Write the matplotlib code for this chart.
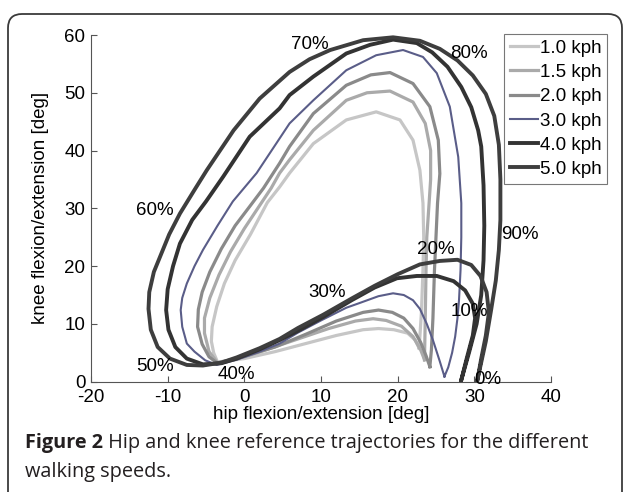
import matplotlib
matplotlib.use("Agg")
import matplotlib.pyplot as plt
from matplotlib.patches import FancyBboxPatch

plt.rcParams['font.family'] = ['Liberation Sans', 'DejaVu Sans']
plt.rcParams['axes.unicode_minus'] = False

# gait cycle loops, hip vs knee [deg] (0% -> 100%)
hip_10 = [22.8, 22.3, 21.3, 19.5, 17.5, 15.5, 12.0, 8.0, 4.0, 0.0, -3.5, -4.0, -4.3, -4.2, -3.6, -2.6,
          -1.2, 0.8, 3.0, 4.6, 5.9, 9.0, 13.3, 17.2, 20.3, 22.0, 22.9, 23.3, 23.4, 23.3, 23.1, 22.8]
knee_10 = [5.8, 7.2, 8.4, 9.0, 9.2, 9.0, 8.0, 6.6, 5.2, 4.0, 3.4, 5.0, 7.0, 9.5, 13.0, 17.0,
           21.0, 25.5, 31.0, 33.7, 36.1, 41.2, 45.3, 46.7, 45.3, 41.8, 36.6, 30.9, 25.0, 19.3, 12.0, 5.8]

hip_15 = [23.5, 23.0, 22.0, 20.5, 18.5, 16.8, 14.5, 11.0, 7.0, 3.0, 0.0, -3.5, -4.6, -5.2, -5.2, -4.5,
          -3.3, -1.8, 0.0, 2.0, 3.5, 4.6, 5.9, 9.0, 13.3, 16.0, 19.0, 22.0, 23.6, 24.3, 24.3, 24.1, 23.8,
          23.7, 23.6, 23.5]
knee_15 = [3.8, 5.5, 7.8, 9.6, 10.6, 10.9, 10.5, 9.2, 7.4, 5.6, 4.3, 3.3, 5.2, 8.4, 11.0, 14.5,
           18.5, 22.5, 26.5, 30.5, 33.5, 36.1, 38.4, 43.5, 48.7, 50.0, 50.3, 48.4, 44.7, 40.0, 35.0, 30.9,
           25.0, 19.3, 11.0, 3.8]

hip_20 = [24.2, 23.7, 23.0, 22.0, 20.8, 19.3, 17.5, 15.5, 12.0, 8.0, 4.0, 0.0, -3.5, -4.6, -5.5, -6.1,
          -6.0, -5.5, -4.5, -3.0, -1.2, 0.8, 2.5, 4.6, 5.9, 9.0, 13.3, 16.5, 19.0, 22.0, 24.2, 25.3,
          25.5, 25.2, 24.8, 24.6, 24.4, 24.2]
knee_20 = [2.6, 4.5, 6.8, 9.2, 11.0, 12.0, 12.4, 12.0, 10.5, 8.2, 6.0, 4.4, 3.2, 4.3, 6.5, 9.5,
           12.5, 15.5, 19.0, 23.0, 27.0, 30.5, 33.5, 37.8, 40.7, 46.4, 51.3, 53.1, 53.5, 51.6, 47.6, 41.8,
           36.0, 30.9, 19.3, 11.0, 5.5, 2.6]

hip_30 = [26.1, 25.5, 24.6, 23.8, 22.9, 22.0, 20.8, 19.4, 17.5, 15.0, 13.3, 10.0, 7.0, 4.6, 2.0, -1.0,
          -3.6, -5.1, -6.5, -7.5, -8.1, -8.3, -8.1, -7.5, -6.5, -5.4, -3.5, -1.5, 1.6, 4.6, 5.9, 9.0,
          13.3, 17.2, 20.7, 23.3, 25.1, 26.8, 27.9, 28.3, 28.3, 28.2, 28.0, 27.8, 27.5, 27.1, 26.6, 26.1]
knee_30 = [0.9, 3.5, 7.2, 10.0, 12.6, 14.1, 15.0, 15.3, 14.8, 13.6, 12.8, 10.6, 8.5, 6.6, 5.2, 3.8,
           2.9, 3.7, 5.2, 6.6, 9.5, 12.4, 14.5, 17.0, 20.0, 22.8, 27.0, 31.2, 36.1, 42.1, 44.7, 48.7,
           53.9, 56.5, 57.4, 56.2, 53.4, 47.6, 38.9, 30.9, 25.0, 19.3, 14.1, 11.0, 7.8, 5.0, 2.5, 0.9]

hip_40 = [28.3, 29.0, 29.8, 30.1, 29.8, 28.8, 27.3, 25.1, 22.5, 19.9, 17.0, 14.0, 10.3, 7.0, 4.6, 2.0,
          -1.0, -3.0, -5.4, -7.5, -9.0, -9.9, -10.2, -10.0, -9.3, -8.4, -6.8, -5.0, -2.75, 0.7, 4.6, 5.9,
          9.0, 13.3, 16.4, 19.4, 22.5, 24.5, 26.5, 28.3, 29.6, 30.5, 30.9, 31.2, 31.3, 31.2, 30.9, 30.3,
          29.3, 28.3]
knee_40 = [0.3, 4.0, 8.0, 11.0, 13.5, 15.8, 17.4, 18.3, 18.3, 17.9, 16.3, 14.1, 11.2, 8.8, 7.2, 5.6,
           4.0, 3.2, 3.0, 4.0, 6.0, 9.0, 12.4, 16.0, 20.0, 23.9, 28.0, 31.2, 35.5, 42.4, 47.3, 49.6,
           52.8, 56.8, 58.3, 59.2, 58.6, 57.0, 54.5, 51.0, 47.5, 43.5, 40.7, 34.0, 27.0, 21.0, 15.0, 10.0,
           5.0, 0.3]

hip_50 = [30.4, 30.9, 31.5, 31.9, 31.6, 30.8, 29.6, 27.8, 25.5, 22.9, 20.0, 17.0, 14.0, 10.3, 7.0, 4.6,
          2.0, -1.0, -3.0, -5.4, -7.5, -9.7, -11.3, -12.2, -12.5, -12.4, -11.8, -11.0, -9.8, -8.4, -6.5,
          -4.9, -1.4, 2.0, 5.9, 8.5, 11.2, 15.5, 19.4, 22.9, 25.5, 27.8, 29.8, 31.5, 32.6, 33.2, 33.4,
          33.4, 33.2, 32.8, 32.2, 31.5, 30.4]
knee_50 = [0.3, 4.0, 8.0, 12.0, 15.5, 18.3, 20.2, 21.1, 20.9, 20.3, 18.6, 16.6, 14.4, 11.6, 9.3, 7.4,
           5.8, 4.2, 3.3, 2.8, 2.9, 4.0, 6.0, 9.0, 12.6, 15.5, 19.0, 21.6, 25.5, 29.1, 33.2,
           36.6, 43.5, 49.0, 53.6, 55.8, 57.4, 59.1, 59.6, 59.0, 57.6, 55.6, 53.0, 49.8, 46.0, 41.0, 35.0,
           28.0, 22.8, 17.5, 12.5, 7.0, 0.3]

speeds = ['1.0 kph', '1.5 kph', '2.0 kph', '3.0 kph', '4.0 kph', '5.0 kph']
hips = [hip_10, hip_15, hip_20, hip_30, hip_40, hip_50]
knees = [knee_10, knee_15, knee_20, knee_30, knee_40, knee_50]
colors = ['#c6c6c6', '#aaaaaa', '#8a8a8a', '#5a5d88', '#333333', '#3e3e3e']
widths = [2.3, 2.3, 2.3, 1.5, 2.8, 2.8]

pct_labels = ['0%', '10%', '20%', '30%', '40%', '50%', '60%', '70%', '80%', '90%']
pct_pos = [(31.8, 0.4), (29.4, 12.1), (25.0, 22.8), (10.8, 15.4), (-1.0, 1.2),
           (-11.6, 2.6), (-11.7, 29.7), (8.6, 58.3), (29.3, 56.8), (35.9, 25.4)]

W, H = 625, 492
fig = plt.figure(figsize=(W / 100, H / 100), dpi=100)

# frame + caption, drawn in pixel units
bg = fig.add_axes([0, 0, 1, 1])
bg.set_xlim(0, W)
bg.set_ylim(H, 0)
bg.axis('off')
bg.add_patch(FancyBboxPatch((8, 14), 614, 520, boxstyle='round,pad=0,rounding_size=14',
                            fc='white', ec='#3a3a3a', lw=1.3))
cap = dict(fontsize=14.3, color='#231f20', family='Open Sans', va='bottom')
t1 = bg.text(25, 453, 'Figure 2', fontweight='bold', **cap)
bg.annotate(' Hip and knee reference trajectories for the different', xy=(1, 0), xycoords=t1, **cap)
bg.text(25, 482, 'walking speeds.', **cap)

ax = fig.add_axes([91 / W, 1 - 381.7 / H, 460 / W, 346.7 / H])
for hx, ky, lab, c, lw in zip(hips, knees, speeds, colors, widths):
    ax.plot(hx, ky, color=c, lw=lw, label=lab, solid_joinstyle='round')

for lab, (px, py) in zip(pct_labels, pct_pos):
    ax.text(px, py, lab, fontsize=13.5, ha='center', va='center', color='black')

ax.set_xlim(-20, 40)
ax.set_ylim(0, 60)
ax.set_xticks(range(-20, 41, 10))
ax.set_yticks(range(0, 61, 10))
ax.spines['top'].set_visible(False)
ax.spines['right'].set_visible(False)
for s in ['left', 'bottom']:
    ax.spines[s].set_color('#555555')
    ax.spines[s].set_linewidth(0.8)
ax.tick_params(direction='in', length=4, width=0.8, color='#555555', labelsize=13.5)
ax.tick_params(axis='x', pad=5)
ax.tick_params(axis='y', pad=4)
ax.set_xlabel('hip flexion/extension [deg]', fontsize=13.5, labelpad=0)
ax.set_ylabel('knee flexion/extension [deg]', fontsize=13.5, labelpad=11)
ax.patch.set_alpha(0)

leg = ax.legend(loc='upper left', bbox_to_anchor=(504 / W, 1 - 34 / H), bbox_transform=fig.transFigure,
                borderaxespad=0, fontsize=13.5, handlelength=1.5, handletextpad=0.1,
                labelspacing=0.38, borderpad=0.3, fancybox=False, framealpha=1)
leg.get_frame().set_edgecolor('#777777')
leg.get_frame().set_linewidth(0.8)

fig.savefig('out.png', dpi=100)
